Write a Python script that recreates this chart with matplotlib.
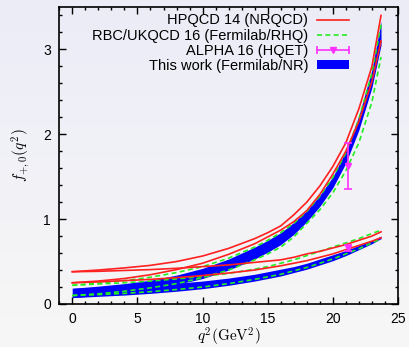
import numpy as np
import matplotlib
matplotlib.use("Agg")
import matplotlib.pyplot as plt
from matplotlib.lines import Line2D
from matplotlib.patches import Patch
from matplotlib.legend_handler import HandlerBase

plt.rcParams['font.family'] = ['Liberation Sans', 'DejaVu Sans']
plt.rcParams['mathtext.fontset'] = 'cm'

q2 = [0, 2, 4, 6, 8, 10, 12, 14, 15, 16, 17, 18, 19, 20, 21, 22, 23, 23.7]

# HPQCD 14 (NRQCD) band edges
hpqcd_fp_hi = [0.38, 0.40, 0.425, 0.455, 0.50, 0.565, 0.655, 0.77, 0.84, 0.92, 1.05, 1.20, 1.39, 1.62, 1.90, 2.30, 2.80, 3.40]
hpqcd_fp_lo = [0.25, 0.27, 0.30, 0.345, 0.405, 0.48, 0.585, 0.71, 0.79, 0.87, 0.97, 1.10, 1.29, 1.53, 1.80, 2.15, 2.62, 3.10]
hpqcd_f0_hi = [0.38, 0.385, 0.395, 0.405, 0.42, 0.44, 0.46, 0.49, 0.505, 0.52, 0.55, 0.59, 0.62, 0.66, 0.70, 0.75, 0.80, 0.85]
hpqcd_f0_lo = [0.25, 0.26, 0.275, 0.29, 0.31, 0.335, 0.365, 0.40, 0.425, 0.45, 0.48, 0.51, 0.55, 0.59, 0.64, 0.69, 0.74, 0.78]

# RBC/UKQCD 16 (Fermilab/RHQ) band edges
rbc_fp_hi = [0.22, 0.245, 0.275, 0.315, 0.37, 0.44, 0.54, 0.67, 0.75, 0.84, 0.95, 1.09, 1.27, 1.49, 1.78, 2.18, 2.72, 3.29]
rbc_fp_lo = [0.10, 0.12, 0.15, 0.19, 0.24, 0.31, 0.40, 0.52, 0.59, 0.67, 0.79, 0.95, 1.11, 1.31, 1.57, 1.90, 2.38, 2.91]
rbc_f0_hi = [0.22, 0.235, 0.25, 0.27, 0.295, 0.325, 0.36, 0.41, 0.44, 0.48, 0.52, 0.57, 0.62, 0.67, 0.72, 0.77, 0.83, 0.87]
rbc_f0_lo = [0.10, 0.11, 0.125, 0.145, 0.17, 0.20, 0.24, 0.29, 0.32, 0.35, 0.39, 0.43, 0.48, 0.53, 0.59, 0.65, 0.72, 0.77]

# This work (Fermilab/NR) bands
fp_hi = [0.185, 0.21, 0.24, 0.28, 0.34, 0.42, 0.53, 0.67, 0.75, 0.84, 0.96, 1.10, 1.28, 1.50, 1.80, 2.22, 2.76, 3.33]
fp_lo = [0.075, 0.10, 0.13, 0.17, 0.23, 0.30, 0.40, 0.53, 0.61, 0.70, 0.82, 0.97, 1.15, 1.37, 1.66, 2.05, 2.55, 3.05]
f0_hi = [0.185, 0.195, 0.21, 0.225, 0.245, 0.27, 0.305, 0.35, 0.38, 0.41, 0.44, 0.48, 0.53, 0.58, 0.63, 0.69, 0.75, 0.80]
f0_lo = [0.075, 0.09, 0.105, 0.125, 0.15, 0.18, 0.22, 0.27, 0.30, 0.33, 0.37, 0.41, 0.46, 0.51, 0.57, 0.64, 0.71, 0.77]

# ALPHA 16 (HQET) points: f+ and f0
alpha_q2 = [21.2, 21.2]
alpha_f = [1.62, 0.66]
alpha_err_lo = [0.26, 0.03]
alpha_err_hi = [0.28, 0.03]

red = '#ff2020'
green = '#22ee22'
blue = '#0000ff'
magenta = '#ff30ff'


class HandlerHErr(HandlerBase):
    # horizontal errorbar with caps and a triangle in the middle, like the gnuplot key
    def create_artists(self, legend, orig_handle, xdescent, ydescent, width, height, fontsize, trans):
        y = height / 2.0 - ydescent
        x0, x1 = -xdescent, width - xdescent
        line = Line2D([x0, x1], [y, y], color=magenta, lw=1.2)
        caps = Line2D([x0, x1], [y, y], ls='none', marker='|', ms=6, mew=1.2, color=magenta)
        tri = Line2D([(x0 + x1) / 2.0], [y], ls='none', marker='v', ms=5, color=magenta)
        for a in (line, caps, tri):
            a.set_transform(trans)
        return [line, caps, tri]


fig = plt.figure(figsize=(4.09, 3.47), dpi=100)

# background gradient (lavender at top, light grey at bottom)
bg = fig.add_axes([0, 0, 1, 1], zorder=-10)
top = np.array([236, 236, 248]) / 255.0
bot = np.array([247, 247, 246]) / 255.0
t = np.linspace(0, 1, 256)[:, None]
grad = (top[None, :] * (1 - t) + bot[None, :] * t)[:, None, :]
bg.imshow(grad, aspect='auto', extent=[0, 1, 0, 1])
bg.axis('off')

ax = fig.add_axes([0.145, 0.124, 0.828, 0.856])
ax.patch.set_alpha(0)

ax.fill_between(q2, fp_lo, fp_hi, color=blue, lw=0, zorder=1)
ax.fill_between(q2, f0_lo, f0_hi, color=blue, lw=0, zorder=1)

for ys in [rbc_fp_hi, rbc_fp_lo, rbc_f0_hi, rbc_f0_lo]:
    ax.plot(q2, ys, color=green, lw=1.2, dashes=(3, 2), zorder=2)
for ys in [hpqcd_fp_hi, hpqcd_fp_lo, hpqcd_f0_hi, hpqcd_f0_lo]:
    ax.plot(q2, ys, color=red, lw=1.2, zorder=3)

ax.errorbar(alpha_q2, alpha_f, yerr=[alpha_err_lo, alpha_err_hi], fmt='v', color=magenta,
            ms=5, capsize=3, elinewidth=1.2, capthick=1.2, zorder=4)

ax.set_xlim(-1, 25)
ax.set_ylim(0, 3.5)
ax.set_xticks([0, 5, 10, 15, 20, 25])
ax.set_yticks([0, 1, 2, 3])
ax.set_xticks(np.arange(-1, 25, 1), minor=True)
ax.set_yticks(np.arange(0, 3.5, 0.2), minor=True)
ax.tick_params(which='both', direction='in', top=True, right=True, labelsize=10, width=1)
ax.tick_params(which='major', length=5, pad=6)
ax.tick_params(which='minor', length=2.5)
for s in ax.spines.values():
    s.set_linewidth(1.2)

ax.set_xlabel(r'$q^2(\mathrm{GeV}^2)$', fontsize=11, labelpad=0)
ax.set_ylabel(r'$f_{+,0}(q^2)$', fontsize=11, labelpad=8)

h_red = Line2D([], [], color=red, lw=1.2)
h_green = Line2D([], [], color=green, lw=1.2, dashes=(3, 2))
h_alpha = Line2D([], [], color=magenta)
h_blue = Patch(color=blue, lw=0)

leg = ax.legend([h_red, h_green, h_alpha, h_blue],
                ['HPQCD 14 (NRQCD)', 'RBC/UKQCD 16 (Fermilab/RHQ)', 'ALPHA 16 (HQET)', 'This work (Fermilab/NR)'],
                handler_map={h_alpha: HandlerHErr()},
                loc='upper right', bbox_to_anchor=(0.855, 0.978), markerfirst=False, frameon=False,
                fontsize=10.5, handlelength=2.2, handletextpad=0.6, labelspacing=0.08,
                handleheight=0.55, borderaxespad=0, borderpad=0)

fig.savefig('out.png', dpi=100)
